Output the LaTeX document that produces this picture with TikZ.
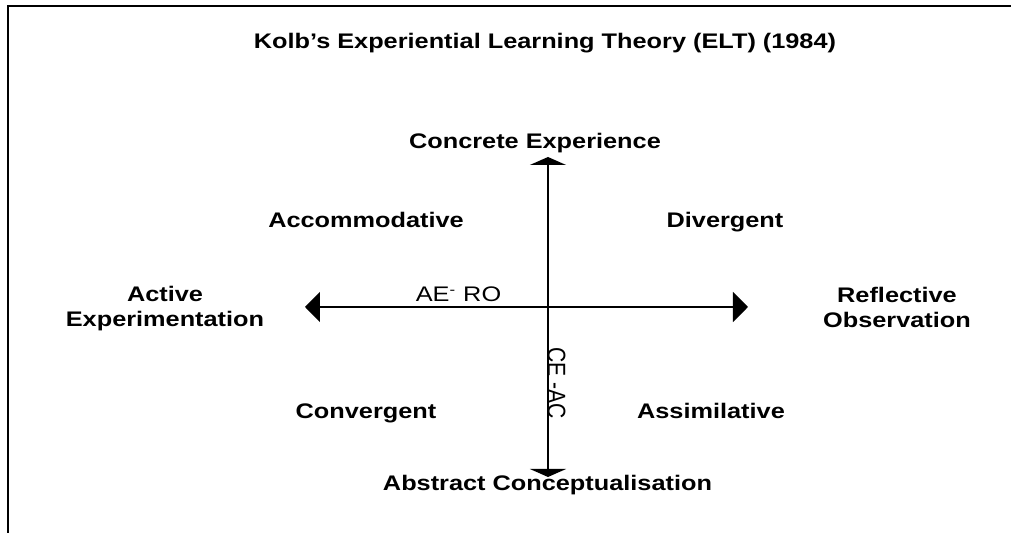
\documentclass[tikz,border=0pt]{standalone}
\usepackage{fontspec}
\setmainfont{Liberation Sans}
\usepackage{tikz}
\usetikzlibrary{arrows.meta, positioning, calc}
\newcommand{\lblsize}{\fontsize{12}{14.5}\selectfont}
\tikzset{>=stealth,
	lbl/.style = {font=\lblsize\bfseries, xscale=1.2, transform shape, inner sep=0pt, align=center},
	axlbl/.style = {font=\lblsize, xscale=1.2, transform shape, inner sep=0pt},
	haxis/.style = {line width=1.1pt, {Triangle[length=0.3cm, width=0.6cm]}-{Triangle[length=0.3cm, width=0.6cm]}},
	vaxis/.style = {line width=1.1pt, {Triangle[length=0.16cm, width=0.72cm]}-{Triangle[length=0.16cm, width=0.72cm]}}}

\begin{document}
\begin{tikzpicture}
			\useasboundingbox (-10.96,-4.52) rectangle (9.26,6.14);
			% frame
			\draw [line width=1.3pt] (-10.8,-4.6) -- (-10.8,6.02) -- (9.3,6.02);

			\node [lbl, anchor=base] (title) at (-0.06,5.16) {Kolb's Experiential Learning Theory (ELT) (1984)};

			% axes
			\coordinate (ae) at (-4.86,0);
			\coordinate (ro) at (4.0,0);
			\coordinate (cetip) at (0,3.0);
			\coordinate (actip) at (0,-3.4);
			\draw [haxis] (ae) -- (ro);
			\draw [vaxis] (actip) -- (cetip);

			\node [lbl, anchor=base] (ce) at (-0.26,3.16) {Concrete Experience};
			\node [lbl, anchor=base] (ac) at (-0.01,-3.68) {Abstract Conceptualisation};
			\node [lbl, anchor=base] (active) at (-7.66,-0.4) {Active\\Experimentation};
			\node [lbl, anchor=base] (reflective) at (6.98,-0.42) {Reflective\\Observation};

			\node [lbl, anchor=base] (accom) at (-3.64,1.58) {Accommodative};
			\node [lbl, anchor=base] (diver) at (3.54,1.58) {Divergent};
			\node [lbl, anchor=base] (conv) at (-3.64,-2.24) {Convergent};
			\node [lbl, anchor=base] (assim) at (3.26,-2.24) {Assimilative};

			\node [axlbl, anchor=base] (aero) at (-1.79,0.1) {AE\textsuperscript{-} RO};
			\node [axlbl, rotate=-90, anchor=base west] (ceac) at (0,-0.8) {CE -AC};
		\end{tikzpicture}
\end{document}
